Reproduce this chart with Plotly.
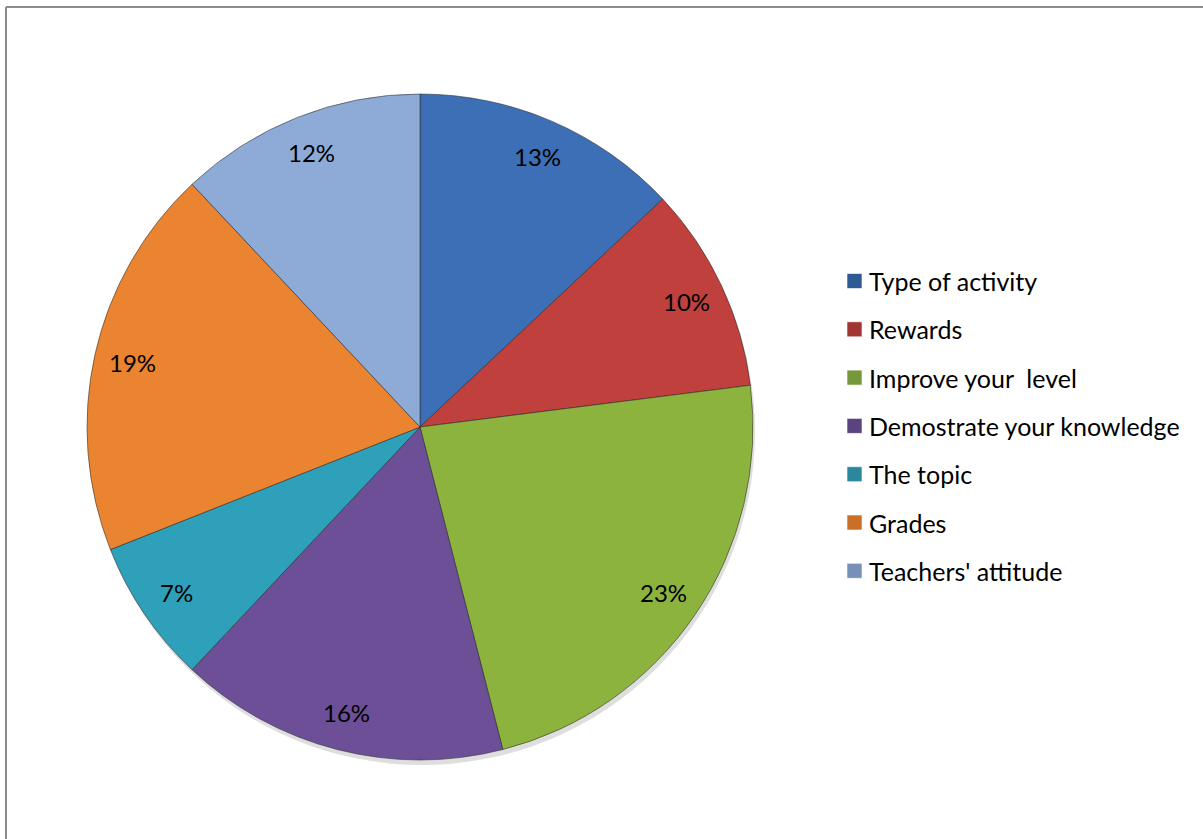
import math
import plotly.graph_objects as go

# Survey answers and their shares (%)
labels = ["Type of activity", "Rewards", "Improve your  level",
          "Demostrate your knowledge", "The topic", "Grades", "Teachers' attitude"]
shares = [13, 10, 23, 16, 7, 19, 12]

slice_colors = ["#3d6fb6", "#bf403c", "#8db33f", "#6c4f97", "#2fa0b9", "#ea8430", "#8eaad7"]
key_colors = ["#2f5b94", "#a23532", "#77983a", "#5a4480", "#2b879d", "#c96f28", "#7890b8"]

W, H = 1203, 839
cx, cy, R = 420, 427, 333          # pie centre and radius in pixels


def px(x):
    return x / W


def py(y):
    return 1 - y / H


fig = go.Figure()

# Soft drop shadow under the pie
fig.add_trace(go.Pie(
    values=[1], labels=["shadow"], sort=False, textinfo="none", hoverinfo="skip",
    marker=dict(colors=["rgba(0,0,0,0.13)"], line=dict(width=0)),
    showlegend=False,
    domain=dict(x=[px(cx - R + 2), px(cx + R + 2)], y=[py(cy + R + 5), py(cy - R + 5)]),
))

fig.add_trace(go.Pie(
    labels=labels,
    values=shares,
    sort=False,
    direction="clockwise",
    rotation=0,
    marker=dict(colors=slice_colors, line=dict(color="rgba(40,40,40,0.55)", width=1)),
    textinfo="none",
    showlegend=False,
    domain=dict(x=[px(cx - R), px(cx + R)], y=[py(cy + R), py(cy - R)]),
))

# Percentage labels placed along each slice's mid-angle
total = sum(shares)
acc = 0
annotations = []
for lab, v in zip(labels, shares):
    mid = (acc + v / 2) / total * 2 * math.pi
    acc += v
    r = 0.885 * R
    x = cx + r * math.sin(mid)
    y = cy - r * math.cos(mid)
    annotations.append(dict(
        x=px(x), y=py(y), xref="paper", yref="paper",
        text=f"{round(v / total * 100)}%", showarrow=False,
        font=dict(family="Lato", size=24, color="#000000"),
        xanchor="center", yanchor="middle",
    ))

# Legend on the right
shapes = []
lx, ly0, step, sq = 847, 281, 48.3, 15
for i, (lab, col) in enumerate(zip(labels, key_colors)):
    yc = ly0 + i * step
    shapes.append(dict(
        type="rect", xref="paper", yref="paper",
        x0=px(lx), x1=px(lx + sq), y0=py(yc + sq / 2), y1=py(yc - sq / 2),
        fillcolor=col, line=dict(color="rgba(255,255,255,0.6)", width=1),
    ))
    annotations.append(dict(
        x=px(lx + 20), y=py(yc), xref="paper", yref="paper",
        text=lab.replace("  ", "&nbsp; "), showarrow=False,
        font=dict(family="Lato", size=25, color="#000000"),
        xanchor="left", yanchor="middle",
    ))

# Chart-area frame
frame = "#8c8c8c"
shapes.append(dict(type="line", xref="paper", yref="paper",
                   x0=px(6), x1=1, y0=py(7), y1=py(7), line=dict(color=frame, width=2)))
shapes.append(dict(type="line", xref="paper", yref="paper",
                   x0=px(6), x1=px(6), y0=py(7), y1=0, line=dict(color=frame, width=2)))

fig.update_layout(
    width=W, height=H,
    margin=dict(l=0, r=0, t=0, b=0),
    paper_bgcolor="white",
    plot_bgcolor="white",
    annotations=annotations,
    shapes=shapes,
)

fig.write_html("out.html")
